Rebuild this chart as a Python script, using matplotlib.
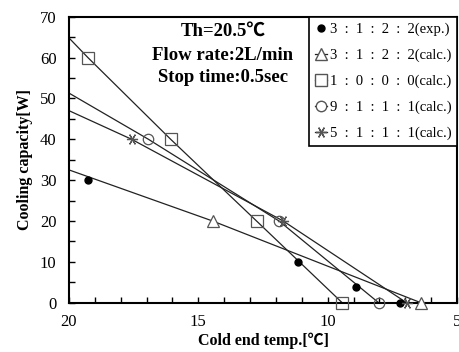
import matplotlib
matplotlib.use("Agg")
import matplotlib.pyplot as plt
from matplotlib.lines import Line2D

plt.rcParams['font.family'] = ['Liberation Serif', 'Noto Sans CJK JP', 'DejaVu Sans']

# experimental points, 3:1:2:2
exp_t = [19.27, 11.14, 8.91, 7.2]
exp_q = [30, 9.9, 3.9, 0]

# calculated curves: first vertex is where the line meets the left edge (no marker)
tri_t = [20, 14.45, 6.4]
tri_q = [32.5, 20, 0]
sq_t = [20, 19.27, 16.07, 12.75, 9.44]
sq_q = [64.8, 60, 40, 20, 0]
circ_t = [20, 16.93, 11.88, 8.03]
circ_q = [51.3, 40, 20, 0]
star_t = [20, 17.58, 11.72, 6.95]
star_q = [47.0, 40, 20, 0]

labels = ["3  :  1  :  2  :  2(exp.)",
          "3  :  1  :  2  :  2(calc.)",
          "1  :  0  :  0  :  0(calc.)",
          "9  :  1  :  1  :  1(calc.)",
          "5  :  1  :  1  :  1(calc.)"]

star_mk = (6, 2, 90)
lc = '#222222'
mc = '#555555'

fig = plt.figure(figsize=(4.59, 3.52), dpi=100)
ax = fig.add_axes([69 / 459, 1 - 302.7 / 352, 388 / 459, 286 / 352])

# lines
for t, q in [(tri_t, tri_q), (sq_t, sq_q), (circ_t, circ_q), (star_t, star_q)]:
    ax.plot(t, q, color=lc, lw=0.9)

# markers
mk_kw = dict(linestyle='none', clip_on=False, zorder=3)
ax.plot(exp_t, exp_q, marker='o', ms=5, color='black', **mk_kw)
ax.plot(tri_t[1:], tri_q[1:], marker='^', ms=8, mfc='white', mec=mc, mew=0.9, **mk_kw)
ax.plot(sq_t[1:], sq_q[1:], marker='s', ms=8, mfc='none', mec=mc, mew=0.9, **mk_kw)
ax.plot(circ_t[1:], circ_q[1:], marker='o', ms=7.5, mfc='none', mec=mc, mew=0.9, **mk_kw)
ax.plot(star_t[1:], star_q[1:], marker=star_mk, ms=8, color=mc, mew=0.9, **mk_kw)

ax.set_xlim(20, 5)
ax.set_ylim(0, 70)
ax.set_xticks([20, 15, 10, 5])
ax.set_xticks(range(5, 21), minor=True)
ax.set_yticks(range(0, 71, 10))
ax.set_yticks(range(0, 71, 5), minor=True)
ax.tick_params(which='both', direction='in', length=4, width=1, labelsize=12)
ax.tick_params(axis='x', which='both', pad=8)
ax.tick_params(axis='y', which='both', pad=9)
for s in ax.spines.values():
    s.set_linewidth(1.5)

ax.set_xlabel("Cold end temp.[℃]", fontsize=11.5, fontweight='bold', labelpad=2)
ax.set_ylabel("Cooling capacity[W]", fontsize=11.5, fontweight='bold', labelpad=5)

ax.text(0.397, 0.948, "Th=20.5℃", transform=ax.transAxes, ha='center', va='center',
        fontsize=13.5, fontweight='bold')
ax.text(0.397, 0.866, "Flow rate:2L/min", transform=ax.transAxes, ha='center', va='center',
        fontsize=13.5, fontweight='bold')
ax.text(0.397, 0.787, "Stop time:0.5sec", transform=ax.transAxes, ha='center', va='center',
        fontsize=13.5, fontweight='bold')

handles = [
    Line2D([], [], linestyle='none', marker='o', ms=5, color='black'),
    Line2D([], [], color=lc, lw=0.9, marker='^', ms=8, mfc='white', mec=mc),
    Line2D([], [], color=lc, lw=0.9, marker='s', ms=8, mfc='white', mec=mc),
    Line2D([], [], color=lc, lw=0.9, marker='o', ms=7.5, mfc='white', mec=mc),
    Line2D([], [], color=lc, lw=0.9, marker=star_mk, ms=8, mec=mc),
]
leg = ax.legend(handles, labels, loc='upper right', bbox_to_anchor=(1, 1), borderaxespad=0,
                fontsize=10.5, handlelength=0.8, handletextpad=0.2, labelspacing=0.86,
                fancybox=False, edgecolor='black', framealpha=1, borderpad=0.4)
leg.get_frame().set_linewidth(1.2)

fig.savefig("out.png", dpi=100)
